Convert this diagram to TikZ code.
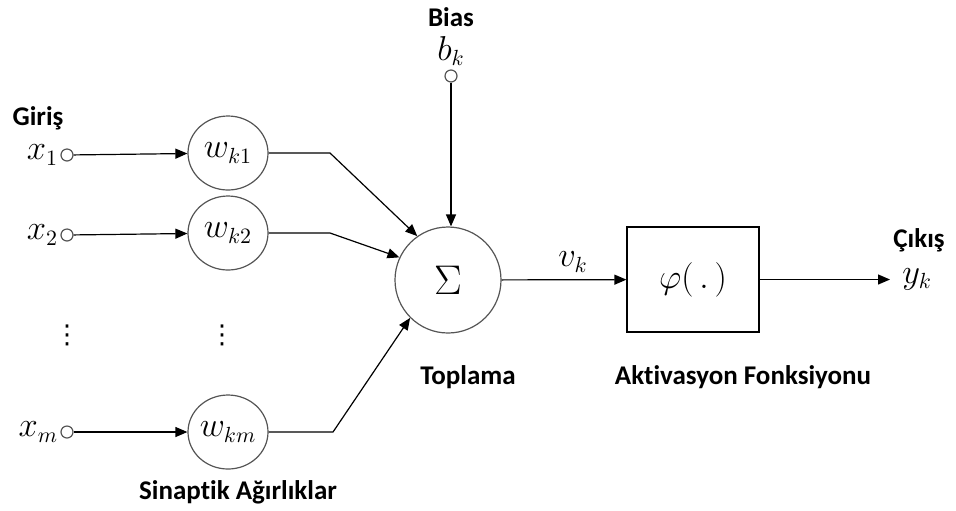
\documentclass[tikz,border=0pt]{standalone}
\usepackage{fontspec}
\usepackage{tikz}
\usetikzlibrary{arrows.meta, positioning, shapes.geometric}
\setmainfont[Ligatures=NoCommon]{Carlito}
\newfontfamily\symfont{DejaVu Sans}
\definecolor{rimgray}{HTML}{555555}

\begin{document}
\begin{tikzpicture}[
    x=0.5pt, y=-0.5pt,
    every node/.style={font=\fontsize{13.5}{16}\selectfont},
    lbl/.style={font=\fontsize{13.5}{16}\selectfont\bfseries, inner sep=0pt},
    mth/.style={font=\fontsize{16}{18}\selectfont, inner sep=0pt},
    vdot/.style={font=\fontsize{13}{15}\selectfont\symfont, inner sep=0pt},
    port/.style={circle, draw=rimgray, fill=white, line width=0.6pt, minimum size=6pt, inner sep=0pt},
    weight/.style={ellipse, draw=rimgray, line width=0.6pt, minimum width=40pt, minimum height=37pt, inner sep=0pt, font=\fontsize{16}{18}\selectfont},
    sumnode/.style={circle, draw=rimgray, line width=0.6pt, minimum size=53pt, inner sep=0pt, font=\fontsize{20}{22}\selectfont},
    actbox/.style={rectangle, draw, line width=0.6pt, minimum width=66pt, minimum height=52.5pt, inner sep=0pt, font=\fontsize{16}{18}\selectfont},
    arrow/.style={-{Triangle[length=6pt, width=5pt]}, line width=0.6pt}
]
\useasboundingbox (0,0) rectangle (956,510);

% inputs
\node[port] (in1) at (67,155) {};
\node[port] (in2) at (67,235) {};
\node[port] (inm) at (67,432) {};
\node[mth, left=1pt of in1] (x1) {$x_1$};
\node[mth, left=1pt of in2] (x2) {$x_2$};
\node[mth, left=1pt of inm] (xm) {$x_m$};
\node[lbl] (giris) at (38,118) {Giriş};
\node[vdot] (dotsx) at (67,335) {⋮};

% weights
\node[weight] (wk1) at (228,153) {$w_{k1}$};
\node[weight] (wk2) at (228,233) {$w_{k2}$};
\node[weight] (wkm) at (228,432) {$w_{km}$};
\node[vdot] (dotsw) at (222,335) {⋮};
\node[lbl] (sinaptik) at (238,492) {Sinaptik Ağırlıklar};

% summation and bias
\node[sumnode] (sum) at (448,280) {$\Sigma$};
\node[port] (bk) at (451,76) {};
\node[mth] (bklbl) at (451,51) {$b_k$};
\node[lbl] (bias) at (451,17) {Bias};
\node[lbl] (toplama) at (468,377) {Toplama};

% activation
\node[actbox] (act) at (693,279.5) {$\varphi(\,.\,)$};
\node[lbl] (aktiv) at (743,377) {Aktivasyon Fonksiyonu};
\node[mth] (vk) at (573,262) {$v_k$};

% output
\coordinate (out) at (890,279.5);
\node[mth, right=6pt of out] (yk) {$y_k$};
\node[lbl] (cikis) at (919,240) {Çıkış};

\coordinate (b1) at (330,153);
\coordinate (b2) at (330,233);
\coordinate (bm) at (333,432);

\draw[arrow] (in1) -- (wk1);
\draw[arrow] (in2) -- (wk2);
\draw[arrow] (inm) -- (wkm);
\draw[arrow] (wk1.east) -- (b1) -- (sum.125);
\draw[arrow] (wk2.east) -- (b2) -- (sum.155);
\draw[arrow] (wkm.east) -- (bm) -- (sum.225);
\draw[arrow] (bk) -- (bk |- sum.north);
\draw[arrow] (sum) -- (act);
\draw[arrow] (act) -- (out);
\end{tikzpicture}
\end{document}
